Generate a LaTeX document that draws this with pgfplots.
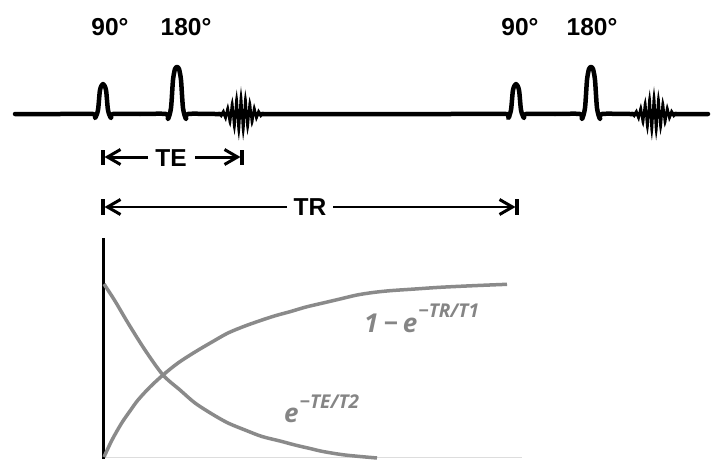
\documentclass[border=0pt]{standalone}
\usepackage{fontspec}
\setmainfont{Liberation Sans}
\newfontfamily\lab{Open Sans}
\usepackage{pgfplots}
\pgfplotsset{compat=1.18}
\usetikzlibrary{arrows.meta}
\definecolor{curvegray}{HTML}{8A8A8A}
\definecolor{labgray}{HTML}{858585}
\definecolor{baseg}{HTML}{DDDDDD}
\begin{document}
\begin{tikzpicture}
\begin{axis}[x=1pt, y=1pt, xmin=0, xmax=712, ymin=0, ymax=459, y dir=reverse,
  hide axis, clip=false, scale only axis]
% bounding frame (invisible)
\addplot[draw=none] coordinates {(0,0) (712,459)};
% pulse sequence baseline with RF pulses
\addplot[black, line width=4.5pt, line cap=round, line join=round, smooth, tension=0.45] coordinates {
(15,114) (60,114) (93,114) (95,118) (98,110) (100,90) (103,84) (106,90) (108,110) (111,118) (113,114)
(140,114) (166,114) (168,119) (171,108) (173,80) (175,69) (177,67) (179,69) (181,80) (183,108) (186,119) (188,114)
(215,114) (267,114) (350,114) (450,114) (506,114) (508,118) (511,110) (513,90) (516,84) (519,90) (521,110) (524,118) (526,114)
(555,114) (580,114) (582,119) (585,108) (587,80) (589,69) (591,67) (593,69) (595,80) (597,108) (600,119) (602,114)
(630,114) (680,114) (708,114)};
% echo 1
\addplot[black, line width=2.3pt, smooth, tension=0.3] coordinates {
(215,114) (219,113) (221.2,116) (223.4,111) (225.6,118.5) (227.8,107.5) (230,123) (232.2,102.5) (234.4,128) (236.6,98) (238.8,131.5)
(241,96) (243.2,131.5) (245.4,98) (247.6,128) (249.8,102.5) (252,123) (254.2,107.5) (256.4,118.5) (258.6,111) (260.8,116) (263,113) (267,114)};
% echo 2
\addplot[black, line width=2.3pt, smooth, tension=0.3] coordinates {
(628,114) (632,113) (634.2,116) (636.4,111) (638.6,118.5) (640.8,107.5) (643,123) (645.2,102.5) (647.4,128) (649.6,98) (651.8,131.5)
(654,96) (656.2,131.5) (658.4,98) (660.6,128) (662.8,102.5) (665,123) (667.2,107.5) (669.4,118.5) (671.6,111) (673.8,116) (676,113) (680,114)};
% TE marker
\addplot[black, line width=3pt, -{Straight Barb[length=13pt,width=15pt,line width=3pt]}] coordinates {(148,157) (104.5,157)};
\addplot[black, line width=3pt, -{Straight Barb[length=13pt,width=15pt,line width=3pt]}] coordinates {(195,157) (240.5,157)};
\addplot[black, line width=3.6pt] coordinates {(103,150) (103,165)};
\addplot[black, line width=3.6pt] coordinates {(242,150) (242,165)};
% TR marker
\addplot[black, line width=2.8pt, -{Straight Barb[length=13pt,width=15pt,line width=3pt]}] coordinates {(287,207) (104.5,207)};
\addplot[black, line width=2.8pt, -{Straight Barb[length=13pt,width=15pt,line width=3pt]}] coordinates {(333,207) (515.5,207)};
\addplot[black, line width=3.6pt] coordinates {(103,199) (103,215)};
\addplot[black, line width=3.6pt] coordinates {(517,199) (517,215)};
% lower panel axes
\addplot[baseg, line width=1.2pt] coordinates {(103,457.5) (522,457.5)};
\addplot[black, line width=3pt] coordinates {(103,238) (103,459)};
% T2 decay
\addplot[curvegray, line width=3.5pt, smooth] coordinates {
(104,284) (115,301) (128,323) (145,350) (163,375) (180,390) (195,403) (212,414) (228,423) (245,430) (262,436.5) (280,441) (295,445) (310,448.5) (323,451.5) (345,455) (377,458)};
% T1 recovery
\addplot[curvegray, line width=3.5pt, smooth] coordinates {
(104,457) (112,440) (121.7,423) (130,411) (138,400) (150,387) (163,375) (178,363) (195,352) (212,342) (228,333) (245,326) (262,320) (276,315.5) (290,311.7) (306,307) (323,303) (340,299) (357,295) (373,292.5) (390,290.7) (415,289) (440,287.3) (473,285.7) (507,284.3)};
% labels
\node[font=\bfseries\fontsize{24.5}{26}\selectfont, anchor=center] at (axis cs:110,27) {90°};
\node[font=\bfseries\fontsize{24.5}{26}\selectfont, anchor=center] at (axis cs:186,27) {180°};
\node[font=\bfseries\fontsize{24.5}{26}\selectfont, anchor=center] at (axis cs:520,27) {90°};
\node[font=\bfseries\fontsize{24.5}{26}\selectfont, anchor=center] at (axis cs:592,27) {180°};
\node[font=\bfseries\fontsize{24.5}{26}\selectfont, anchor=center] at (axis cs:171,158) {TE};
\node[font=\bfseries\fontsize{24.5}{26}\selectfont, anchor=center] at (axis cs:310,207) {TR};
\node[text=labgray, inner sep=0pt, anchor=base west, font=\lab\bfseries\itshape\fontsize{26}{28}\selectfont] at (axis cs:364,332)
  {1\hspace{5pt}−\hspace{5pt}e\hspace{1pt}\raisebox{15pt}{\fontsize{19}{20}\selectfont −TR/T1}};
\node[text=labgray, inner sep=0pt, anchor=base west, font=\lab\bfseries\itshape\fontsize{26}{28}\selectfont] at (axis cs:284,422)
  {e\hspace{1pt}\raisebox{13.5pt}{\fontsize{19}{20}\selectfont −TE/T2}};
\end{axis}
\end{tikzpicture}
\end{document}
